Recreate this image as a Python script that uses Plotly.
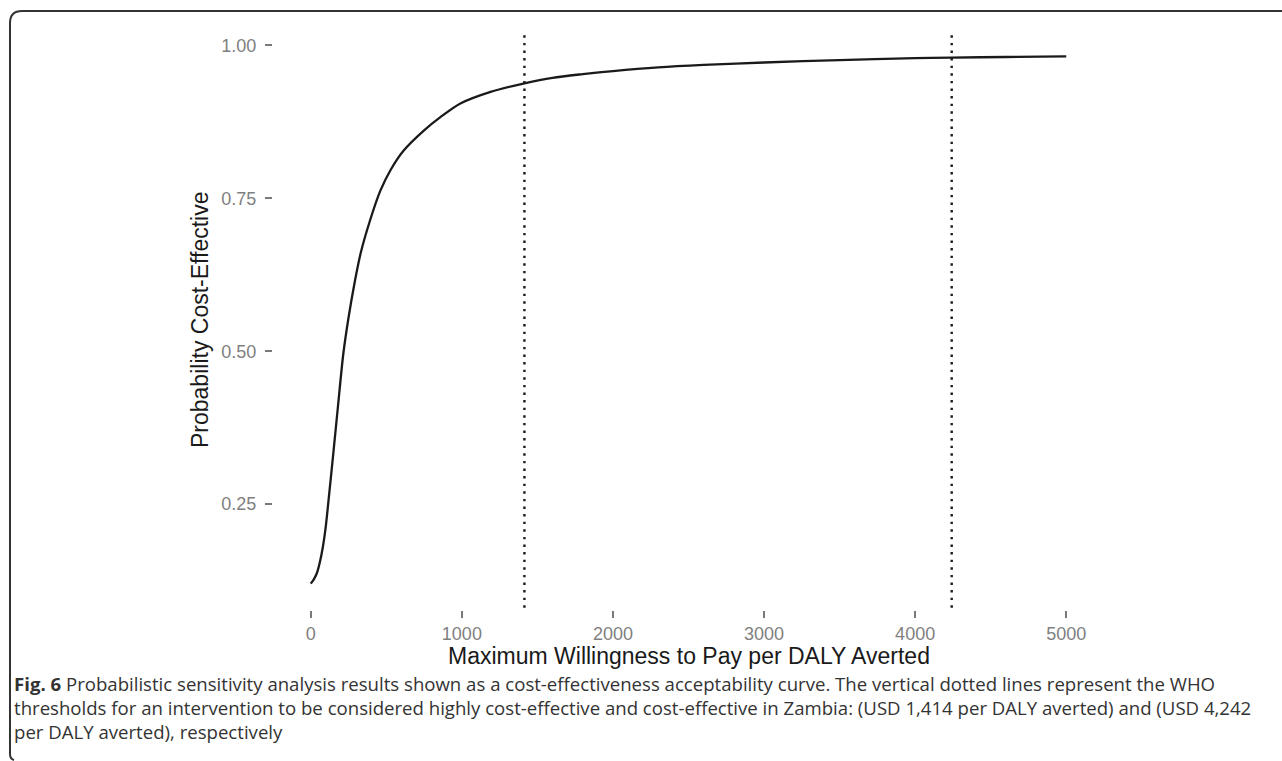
import plotly.graph_objects as go

# ---- data ----
wtp = [0, 20, 40, 60, 80, 100, 120, 150, 180, 215, 250, 290, 330, 390, 460, 530,
       615, 750, 860, 990, 1190, 1414, 1600, 1800, 2000, 2300, 2600, 3000, 3500,
       4000, 4242, 4600, 5000]
prob = [0.120, 0.127, 0.137, 0.155, 0.180, 0.215, 0.262, 0.335, 0.410, 0.495, 0.555,
        0.612, 0.660, 0.712, 0.762, 0.797, 0.828, 0.861, 0.883, 0.905, 0.924, 0.938,
        0.947, 0.953, 0.958, 0.964, 0.968, 0.972, 0.976, 0.979, 0.980, 0.981, 0.982]
thresholds = [1414, 4242]
x_ticks = [0, 1000, 2000, 3000, 4000, 5000]
y_ticks = [0.25, 0.50, 0.75, 1.00]
x_title = "Maximum Willingness to Pay per DALY Averted"
y_title = "Probability Cost-Effective"
caption_lines = [
    "<b>Fig. 6</b> Probabilistic sensitivity analysis results shown as a cost-effectiveness acceptability curve. The vertical dotted lines represent the WHO",
    "thresholds for an intervention to be considered highly cost-effective and cost-effective in Zambia: (USD 1,414 per DALY averted) and (USD 4,242",
    "per DALY averted), respectively",
]

# ---- layout geometry (pixels) ----
W, H = 1282, 761
ML, MR, MT, MB = 273, 178, 30, 151
PW, PH = W - ML - MR, H - MT - MB


def px(x):
    return (x - ML) / PW


def py(y):
    return (H - MB - y) / PH


fig = go.Figure()
fig.add_trace(go.Scatter(
    x=wtp, y=prob, mode="lines",
    line=dict(color="#1a1a1a", width=2.3, shape="spline", smoothing=0.8),
    hoverinfo="skip", showlegend=False,
))

for t in thresholds:
    fig.add_shape(type="line", xref="x", yref="paper", x0=t, x1=t, y0=0.004, y1=0.995,
                  line=dict(color="#1a1a1a", width=2.4, dash="2.4px,5.2px"))

# frame of figure box
frame = (f"M {px(1290)},{py(11)} L {px(22)},{py(11)} Q {px(10)},{py(11)} {px(10)},{py(23)} "
         f"L {px(10)},{py(754)} Q {px(10)},{py(759)} {px(14)},{py(760)}")
fig.add_shape(type="path", xref="paper", yref="paper", path=frame,
              line=dict(color="#333333", width=2))

AX_FONT = "Liberation Sans"
ann = []
ann.append(dict(text=x_title, xref="paper", yref="paper", x=0.5, y=py(656),
                xanchor="center", yanchor="middle", showarrow=False,
                font=dict(family=AX_FONT, size=23, color="#1a1a1a")))
ann.append(dict(text=y_title, xref="paper", yref="paper", x=px(200), y=0.5,
                xanchor="center", yanchor="middle", showarrow=False, textangle=-90,
                font=dict(family=AX_FONT, size=23, color="#1a1a1a")))
for i, line in enumerate(caption_lines):
    ann.append(dict(text=line, xref="paper", yref="paper", x=px(12), y=py(683 + 24 * i),
                    xanchor="left", yanchor="middle", showarrow=False, align="left",
                    font=dict(family="Open Sans", size=18.6, color="#333333")))

fig.update_layout(
    width=W, height=H, autosize=False,
    font=dict(family=AX_FONT),
    margin=dict(l=ML, r=MR, t=MT, b=MB, pad=0),
    paper_bgcolor="white", plot_bgcolor="white",
    annotations=ann,
    xaxis=dict(range=[-250, 5250], tickvals=x_ticks, showgrid=False, zeroline=False,
               showline=False, ticks="outside", ticklen=7, tickwidth=2.2,
               tickcolor="#7a7a7a", ticklabelstandoff=0,
               tickfont=dict(family=AX_FONT, size=18, color="#7f7f7f")),
    yaxis=dict(range=[0.0769, 1.0251], tickvals=y_ticks, tickformat=".2f", showgrid=False,
               zeroline=False, showline=False, ticks="outside", ticklen=7, tickwidth=2.2,
               tickcolor="#7a7a7a", ticklabelstandoff=5,
               tickfont=dict(family=AX_FONT, size=18, color="#7f7f7f")),
)

fig.write_html("out.html")
